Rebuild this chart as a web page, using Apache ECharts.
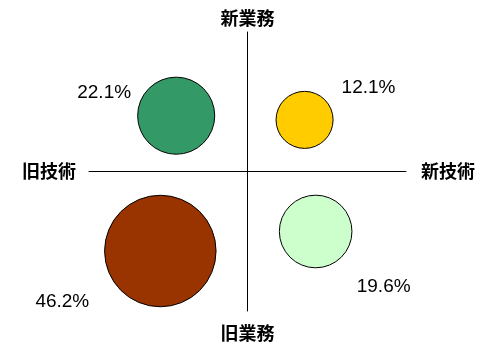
<!DOCTYPE html>
<html>
<head>
<meta charset="utf-8">
<script src="https://cdn.jsdelivr.net/npm/echarts@6/dist/echarts.min.js"></script>
<style>html,body{margin:0;padding:0;background:#fff}#c{width:478px;height:342px}</style>
</head>
<body>
<div id="c"></div>
<script>
// Quadrant categories
const quadrants = ['旧技術・新業務', '新技術・新業務', '旧技術・旧業務', '新技術・旧業務'];
// Position on technology axis (-1 = 旧技術, +1 = 新技術)
const techPos = [-0.45, 0.36, -0.55, 0.43];
// Position on business axis (-1 = 旧業務, +1 = 新業務)
const bizPos = [0.40, 0.37, -0.57, -0.43];
// Share (%)
const shares = [22.1, 12.1, 46.2, 19.6];
// Axis end labels
const techLabels = ['旧技術', '新技術'];
const bizLabels = ['旧業務', '新業務'];

const colors = ['#339966', '#FFCC00', '#993300', '#CCFFCC'];
const labelOffsets = [[-72, -23], [64, -32], [-98, 51], [68, 55]];

const chart = echarts.init(document.getElementById('c'));
const cjk = "'Noto Sans CJK JP', sans-serif";
const nameStyle = { fontFamily: cjk, fontWeight: 'bold', fontSize: 18, color: '#000', lineHeight: 18 };

const data = shares.map((v, i) => ({
  name: quadrants[i],
  value: [techPos[i], bizPos[i], v],
  itemStyle: { color: colors[i] },
  label: { offset: labelOffsets[i] }
}));

chart.setOption({
  animation: false,
  backgroundColor: '#fff',
  grid: { left: 89, right: 71, top: 32, bottom: 31 },
  xAxis: [
    { type: 'value', min: -1, max: 1, axisLine: { onZero: true, onZeroAxisIndex: 0, lineStyle: { color: '#000', width: 1 } },
      axisTick: { show: false }, axisLabel: { show: false }, splitLine: { show: false },
      name: techLabels[1], nameLocation: 'end', nameGap: 15,
      nameTextStyle: Object.assign({}, nameStyle, { align: 'left', verticalAlign: 'middle', padding: [6, 0, 0, 0] }) },
    { type: 'value', min: -1, max: 1, axisLine: { show: false, onZero: true, onZeroAxisIndex: 1 },
      axisTick: { show: false }, axisLabel: { show: false }, splitLine: { show: false },
      name: techLabels[0], nameLocation: 'start', nameGap: 13,
      nameTextStyle: Object.assign({}, nameStyle, { align: 'right', verticalAlign: 'middle', padding: [6, 0, 0, 0] }) }
  ],
  yAxis: [
    { type: 'value', min: -1, max: 1, axisLine: { onZero: true, onZeroAxisIndex: 0, lineStyle: { color: '#000', width: 1 } },
      axisTick: { show: false }, axisLabel: { show: false }, splitLine: { show: false },
      name: bizLabels[1], nameLocation: 'end', nameGap: 5,
      nameTextStyle: Object.assign({}, nameStyle, { align: 'center', verticalAlign: 'bottom' }) },
    { type: 'value', min: -1, max: 1, position: 'left', axisLine: { show: false, onZero: true, onZeroAxisIndex: 1 },
      axisTick: { show: false }, axisLabel: { show: false }, splitLine: { show: false },
      name: bizLabels[0], nameLocation: 'start', nameGap: 13,
      nameTextStyle: Object.assign({}, nameStyle, { align: 'center', verticalAlign: 'top' }) }
  ],
  series: [{
    type: 'scatter',
    xAxisIndex: 0, yAxisIndex: 0,
    symbol: 'circle',
    symbolSize: d => 16.4 * Math.sqrt(d[2]),
    itemStyle: { borderColor: '#000', borderWidth: 1, opacity: 1 },
    label: {
      show: true, position: 'inside',
      formatter: p => p.value[2].toFixed(1) + '%',
      fontFamily: "'Liberation Sans', Arial, sans-serif", fontSize: 19, color: '#000'
    },
    emphasis: { disabled: true },
    data: data
  }]
});
</script>
</body>
</html>
